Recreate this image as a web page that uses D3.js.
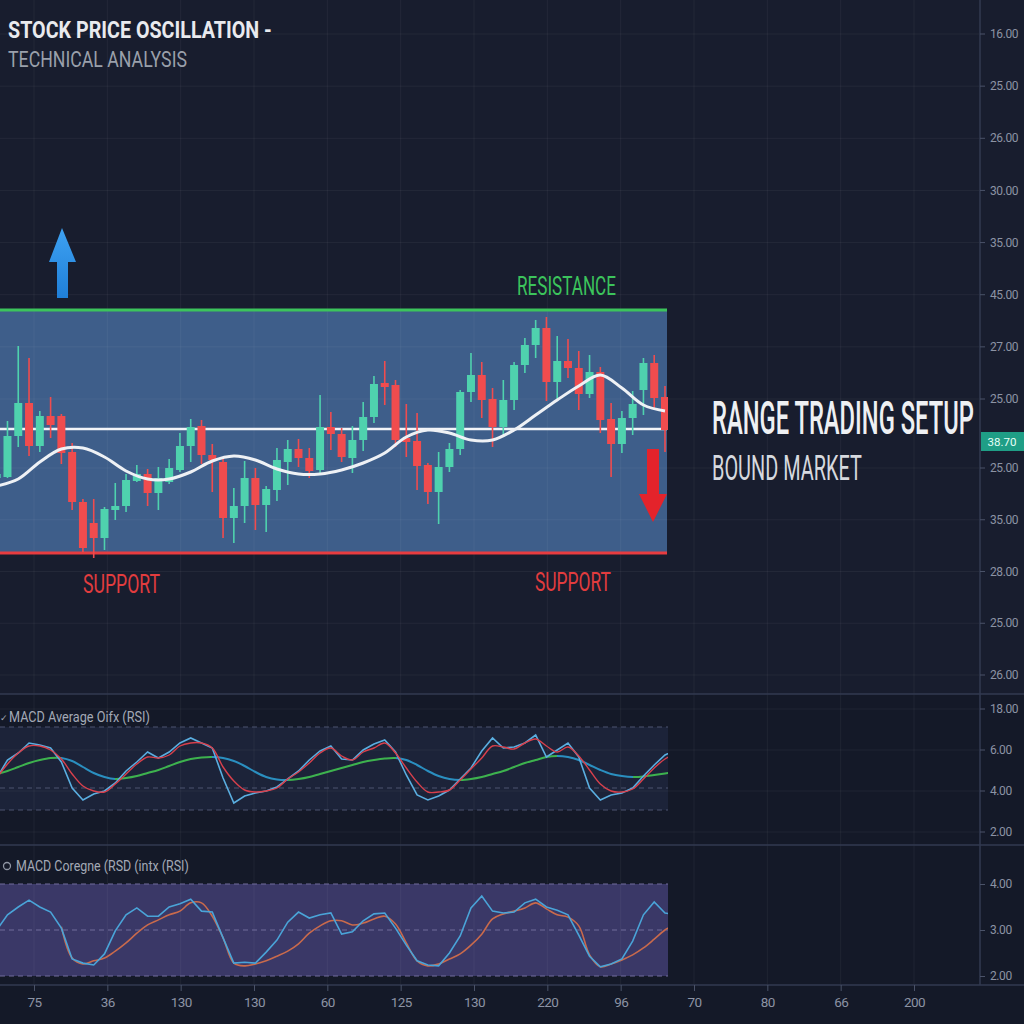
<!DOCTYPE html>
<html>
<head>
<meta charset="utf-8">
<script src="https://cdn.jsdelivr.net/npm/d3@7"></script>
<style>
html, body { margin: 0; padding: 0; background: #181d2e; }
svg { display: block; font-family: Roboto, "Noto Sans", sans-serif; }
</style>
</head>
<body>
<div id="chart"></div>
<script>
// candles, one per bar: [open, high, low, close]
const candles = [
  [27.5,28.3,27.1,27.9],[27.6,33.2,27.5,31.7],[31.7,40.7,30.6,35.0],[35.0,39.5,29.7,30.7],
  [30.7,34.2,30.1,33.7],[33.7,35.6,31.5,32.8],[33.7,33.9,28.9,30.0],[30.1,31.0,24.3,25.1],
  [25.1,25.4,20.1,20.5],[23.0,25.4,19.5,21.5],[21.5,24.6,20.3,24.4],[24.3,27.0,23.3,24.7],
  [24.7,27.9,24.1,27.3],[27.2,28.8,27.1,27.9],[27.9,28.4,24.7,26.0],[26.0,28.6,24.3,27.5],
  [27.1,29.4,26.9,28.5],[28.3,32.0,28.1,30.7],[30.7,33.4,29.1,32.6],[32.7,33.3,28.9,29.8],
  [29.8,30.9,26.1,29.3],[29.1,29.5,21.5,23.5],[23.5,26.5,21.0,24.7],[24.7,29.2,23.0,27.5],
  [27.5,28.5,22.3,24.8],[24.8,26.7,22.1,26.4],[26.3,30.5,25.2,29.3],[29.1,31.3,26.8,30.4],
  [30.4,31.4,28.6,29.5],[29.5,30.5,27.5,28.2],[28.3,35.8,27.8,32.6],[32.6,34.1,30.3,31.9],
  [31.9,32.5,29.1,29.6],[29.5,32.7,28.0,31.3],[31.3,35.1,30.2,33.6],[33.6,37.7,33.0,36.9],
  [37.0,39.2,34.8,36.6],[36.8,37.3,30.6,31.3],[31.5,34.9,29.6,31.1],[31.2,34.0,26.3,28.7],
  [28.8,29.0,24.9,26.1],[26.1,30.1,22.9,28.6],[28.6,31.0,28.1,30.4],[30.4,36.3,29.8,36.1],
  [36.1,40.0,35.1,37.8],[37.8,39.1,33.5,35.3],[35.4,36.5,30.6,32.6],[32.6,37.3,31.8,35.3],
  [35.3,39.1,34.3,38.8],[38.8,41.5,38.0,40.8],[40.8,43.3,39.5,42.5],[42.5,43.6,35.2,37.1],
  [37.1,41.7,35.4,39.2],[39.2,41.4,37.5,38.5],[38.5,40.2,34.3,35.9],[35.9,39.8,35.5,38.1],
  [38.1,38.6,32.0,33.3],[33.4,35.0,27.6,30.9],[30.9,34.2,30.0,33.5],[33.5,36.2,31.8,34.9],
  [36.3,39.5,33.8,39.0],[39.0,39.8,34.3,35.5],[35.6,36.7,30.1,32.3]
];
// moving average, read every second bar
const movingAvg = [26.7,27.4,29.1,30.4,30.5,29.6,28.2,27.4,27.4,28.1,29.2,29.7,29.3,28.4,27.9,27.9,
  28.3,29.0,30.0,31.6,32.3,32.0,31.3,31.3,32.3,33.8,35.3,36.7,37.8,36.5,34.8,34.2];
const supportLevel = 20, resistanceLevel = 44.3, midLevel = 32.4;

// MACD panel, one value per bar
const macdFast = [1.0,2.8,3.5,4.5,4.3,4.0,2.6,0.0,-1.2,-0.6,-0.3,0.5,1.7,2.6,3.6,3.0,3.6,4.5,5.0,4.5,
  4.0,1.0,-1.5,-0.8,-0.5,-0.3,0.1,0.9,1.7,2.8,3.7,4.2,2.9,2.8,3.8,4.4,4.8,3.6,1.3,-0.7,
  -1.2,-0.8,-0.2,0.9,2.0,3.7,5.0,4.0,4.1,4.5,5.3,3.1,3.8,4.5,3.1,0.0,-1.2,-0.7,-0.5,0.0,
  1.2,2.3,3.3,3.8];
const macdSlow = [1.0,2.4,3.5,4.2,4.2,3.8,2.9,1.4,0.2,-0.3,-0.4,0.4,1.4,2.4,3.1,3.0,3.3,4.2,4.5,4.5,
  4.0,2.1,0.7,-0.2,-0.4,-0.3,0.0,0.9,1.6,2.5,3.5,4.0,3.2,2.8,3.6,4.0,4.5,3.5,2.0,0.6,
  -0.4,-0.4,-0.2,0.8,1.9,3.0,4.2,4.1,3.9,4.5,4.9,4.2,3.6,4.1,3.2,1.8,0.4,-0.3,-0.4,-0.1,
  0.9,2.0,2.9,3.4];
const macdSignal = [1.4,1.7,2.1,2.5,2.8,3.0,3.0,2.7,2.1,1.5,1.1,0.9,1.0,1.2,1.5,1.8,2.2,2.6,2.9,3.05,
  3.1,3.0,2.7,2.2,1.6,1.1,0.85,0.8,0.9,1.1,1.4,1.7,2.0,2.3,2.6,2.8,2.95,3.0,2.8,2.3,
  1.7,1.2,0.9,0.8,0.9,1.1,1.4,1.7,2.1,2.5,2.8,3.1,3.2,3.1,2.8,2.3,1.8,1.4,1.2,1.1,
  1.15,1.3,1.45,1.6];
const macdLevels = [-2.2, 0, 6.1];

// RSI panel, one value per bar
const rsiFast = [3.00,3.33,3.50,3.65,3.50,3.39,3.04,2.37,2.28,2.24,2.48,2.98,3.33,3.48,3.30,3.30,3.50,3.57,3.67,3.41,
  3.39,2.83,2.28,2.30,2.28,2.52,2.78,3.17,3.39,3.26,3.33,3.37,2.91,2.96,3.20,3.35,3.37,3.04,2.67,2.33,
  2.24,2.22,2.50,2.87,3.48,3.74,3.41,3.37,3.39,3.59,3.67,3.50,3.43,3.33,2.89,2.43,2.20,2.26,2.37,2.76,
  3.33,3.61,3.37,3.33];
const rsiSlow = [null,null,null,null,null,null,3.07,2.39,2.26,2.33,2.39,2.54,2.72,2.93,3.11,3.22,3.33,3.41,3.59,3.59,
  3.30,2.83,2.28,2.22,2.26,2.33,2.43,2.54,2.70,2.93,3.09,3.20,3.20,3.11,3.15,3.24,3.30,3.13,2.72,2.33,
  2.22,2.26,2.37,2.48,2.67,2.91,3.24,3.35,3.41,3.48,3.59,3.46,3.33,3.28,3.09,2.46,2.20,2.26,2.35,2.46,
  2.61,2.80,3.00,3.13];
const rsiLevels = [2, 3, 4];

// axis labels
const priceLabelsUpper = ["16.00","25.00","26.00","30.00","35.00","45.00","27.00","25.00"];
const priceLabelsLower = ["25.00","35.00","28.00","25.00","26.00"];
const lastPrice = "38.70";
const macdLabels = ["18.00","6.00","4.00","2.00"];
const rsiTicks = [4, 3, 2];
const timeLabels = ["75","36","130","130","60","125","130","220","96","70","80","66","200"];

const W = 1024, H = 1024;
const plotRight = 668, axisX = 980;
const svg = d3.select("#chart").append("svg").attr("width", W).attr("height", H);

svg.append("rect").attr("width", W).attr("height", H).attr("fill", "#181d2e");
svg.append("rect").attr("y", 694).attr("width", W).attr("height", H - 694).attr("fill", "#141928");

const x = d3.scaleLinear().domain([0, candles.length - 1]).range([-3.3, 665]);
const y = d3.scaleLinear().domain([supportLevel, resistanceLevel]).range([553, 310]);
const yMacd = d3.scaleLinear().domain([-5.7, 9.4]).range([845, 694]);
const yRsi = d3.scaleLinear().domain([2, 4]).range([976, 884]);
const xTime = d3.scalePoint().domain(d3.range(timeLabels.length)).range([34, 914]);
const yUpper = d3.scalePoint().domain(d3.range(priceLabelsUpper.length)).range([34, 399]);
const yLower = d3.scalePoint().domain(d3.range(priceLabelsLower.length)).range([468, 675]);
const yMacdLab = d3.scalePoint().domain(d3.range(macdLabels.length)).range([709, 832]);

const defs = svg.append("defs");
defs.append("clipPath").attr("id", "plotClip")
  .append("rect").attr("x", 0).attr("y", 0).attr("width", plotRight).attr("height", H);

// price box
svg.append("rect")
  .attr("x", 0).attr("y", y(resistanceLevel))
  .attr("width", 667).attr("height", y(supportLevel) - y(resistanceLevel))
  .attr("fill", "#3e5e8a");

// panel bands
svg.append("rect")
  .attr("x", 0).attr("y", yMacd(d3.max(macdLevels)))
  .attr("width", plotRight).attr("height", yMacd(d3.min(macdLevels)) - yMacd(d3.max(macdLevels)))
  .attr("fill", "#1c2339");
svg.append("rect")
  .attr("x", 0).attr("y", yRsi(4))
  .attr("width", plotRight).attr("height", yRsi(2) - yRsi(4))
  .attr("fill", "#3a3867");

// grid
const grid = svg.append("g").attr("stroke", "#ffffff").attr("stroke-opacity", 0.05);
grid.selectAll("line.v").data(xTime.domain()).join("line")
  .attr("x1", d => xTime(d)).attr("x2", d => xTime(d)).attr("y1", 0).attr("y2", 985);
const hPos = priceLabelsUpper.map((d, i) => yUpper(i)).concat(priceLabelsLower.map((d, i) => yLower(i)));
grid.selectAll("line.h").data(hPos).join("line")
  .attr("x1", 0).attr("x2", axisX).attr("y1", d => d).attr("y2", d => d);
grid.selectAll("line.m").data(macdLabels.map((d, i) => yMacdLab(i))).join("line")
  .attr("x1", 0).attr("x2", axisX).attr("y1", d => d).attr("y2", d => d);

// separators and axis line
const sep = svg.append("g").attr("stroke", "#323a50").attr("stroke-width", 1.5);
[694, 845, 985].forEach(v => sep.append("line").attr("x1", 0).attr("x2", W).attr("y1", v).attr("y2", v));
sep.append("line").attr("x1", axisX).attr("x2", axisX).attr("y1", 0).attr("y2", 985);

// resistance / support / mid
svg.append("line").attr("x1", 0).attr("x2", 667)
  .attr("y1", y(resistanceLevel)).attr("y2", y(resistanceLevel))
  .attr("stroke", "#3cc45c").attr("stroke-width", 3);
svg.append("line").attr("x1", 0).attr("x2", 667)
  .attr("y1", y(supportLevel)).attr("y2", y(supportLevel))
  .attr("stroke", "#e83c40").attr("stroke-width", 3);

const plot = svg.append("g").attr("clip-path", "url(#plotClip)");

plot.append("line").attr("x1", 0).attr("x2", 667)
  .attr("y1", y(midLevel)).attr("y2", y(midLevel))
  .attr("stroke", "#f2f4f8").attr("stroke-width", 2.5);

// candles
const up = "#4fd2ae", down = "#f04c4e";
const bw = 8;
const c = plot.append("g").selectAll("g").data(candles).join("g")
  .attr("fill", d => d[3] >= d[0] ? up : down)
  .attr("stroke", d => d[3] >= d[0] ? up : down);
c.append("line")
  .attr("x1", (d, i) => x(i)).attr("x2", (d, i) => x(i))
  .attr("y1", d => y(d[1])).attr("y2", d => y(d[2]))
  .attr("stroke-width", 1.6);
c.append("rect")
  .attr("x", (d, i) => x(i) - bw / 2).attr("width", bw)
  .attr("y", d => y(Math.max(d[0], d[3])))
  .attr("height", d => Math.max(2, Math.abs(y(d[0]) - y(d[3]))))
  .attr("stroke", "none");

// moving average
plot.append("path")
  .datum(movingAvg)
  .attr("fill", "none").attr("stroke", "#eef1f5").attr("stroke-width", 3)
  .attr("d", d3.line().x((d, i) => x(i * 2)).y(d => y(d)).curve(d3.curveCatmullRom));

// arrows
const gUp = defs.append("linearGradient").attr("id", "gUp").attr("x1", 0).attr("x2", 0).attr("y1", 0).attr("y2", 1);
gUp.append("stop").attr("offset", 0).attr("stop-color", "#3ea2f2");
gUp.append("stop").attr("offset", 1).attr("stop-color", "#1f7fd8");
svg.append("path").attr("fill", "url(#gUp)")
  .attr("d", "M62,228 L76,262 L68,262 L68,298 L57,298 L57,262 L49,262 Z");
svg.append("path").attr("fill", "#e4232b")
  .attr("d", "M647,449 L659,449 L659,494 L667,494 L653,522 L639,494 L647,494 Z");

// MACD lines
const macdG = svg.append("g").attr("clip-path", "url(#plotClip)");
macdG.selectAll("line.lvl").data(macdLevels).join("line")
  .attr("x1", 0).attr("x2", plotRight).attr("y1", d => yMacd(d)).attr("y2", d => yMacd(d))
  .attr("stroke", "#4c5570").attr("stroke-width", 1.2).attr("stroke-dasharray", "5,4");

// signal line: green while rising, blue while falling
const sigGrad = defs.append("linearGradient").attr("id", "sigGrad")
  .attr("gradientUnits", "userSpaceOnUse").attr("x1", x(0)).attr("x2", x(macdSignal.length - 1))
  .attr("y1", 0).attr("y2", 0);
const span = x(macdSignal.length - 1) - x(0);
let prevDir = null;
for (let i = 1; i < macdSignal.length; i++) {
  const dir = macdSignal[i] >= macdSignal[i - 1] ? "#3db24e" : "#2a8fc0";
  if (dir !== prevDir) {
    const off = (x(i - 1) - x(0)) / span;
    if (prevDir) sigGrad.append("stop").attr("offset", off).attr("stop-color", prevDir);
    sigGrad.append("stop").attr("offset", off).attr("stop-color", dir);
    prevDir = dir;
  }
}
sigGrad.append("stop").attr("offset", 1).attr("stop-color", prevDir);

macdG.append("path").datum(macdSignal)
  .attr("fill", "none").attr("stroke", "url(#sigGrad)").attr("stroke-width", 2)
  .attr("d", d3.line().x((d, i) => x(i)).y(d => yMacd(d)).curve(d3.curveCatmullRom));
macdG.append("path").datum(macdFast)
  .attr("fill", "none").attr("stroke", "#5aaee0").attr("stroke-width", 1.6)
  .attr("d", d3.line().x((d, i) => x(i)).y(d => yMacd(d)));
macdG.append("path").datum(macdSlow)
  .attr("fill", "none").attr("stroke", "#d8404c").attr("stroke-width", 1.4)
  .attr("d", d3.line().x((d, i) => x(i)).y(d => yMacd(d)).curve(d3.curveCatmullRom));

// RSI lines
const rsiG = svg.append("g").attr("clip-path", "url(#plotClip)");
rsiG.selectAll("line.lvl").data(rsiLevels).join("line")
  .attr("x1", 0).attr("x2", plotRight).attr("y1", d => yRsi(d)).attr("y2", d => yRsi(d))
  .attr("stroke", "#706c9c").attr("stroke-width", 1.2).attr("stroke-dasharray", "5,4");
rsiG.append("path").datum(rsiSlow)
  .attr("fill", "none").attr("stroke", "#c96a4c").attr("stroke-width", 1.6)
  .attr("d", d3.line().defined(d => d != null).x((d, i) => x(i)).y(d => yRsi(d)).curve(d3.curveCatmullRom));
rsiG.append("path").datum(rsiFast)
  .attr("fill", "none").attr("stroke", "#4aa4d8").attr("stroke-width", 1.6)
  .attr("d", d3.line().x((d, i) => x(i)).y(d => yRsi(d)));

// right axis labels
const axisCol = "#8c93a4";
const ra = svg.append("g").attr("font-size", 12).attr("fill", axisCol);
function rightLabels(labels, scale) {
  labels.forEach((t, i) => {
    ra.append("line").attr("x1", axisX).attr("x2", axisX + 5)
      .attr("y1", scale(i)).attr("y2", scale(i)).attr("stroke", "#4a5268");
    ra.append("text").attr("x", 990).attr("y", scale(i)).attr("dy", "0.35em")
      .attr("letter-spacing", -0.4).text(t);
  });
}
rightLabels(priceLabelsUpper, yUpper);
rightLabels(priceLabelsLower, yLower);
rightLabels(macdLabels, yMacdLab);

const rsiAxis = svg.append("g").attr("transform", `translate(${axisX},0)`)
  .call(d3.axisRight(yRsi).tickValues(rsiTicks).tickFormat(d3.format(".2f")).tickSize(5).tickPadding(5));
rsiAxis.select(".domain").remove();
rsiAxis.selectAll("line").attr("stroke", "#4a5268");
rsiAxis.selectAll("text").attr("fill", axisCol).attr("font-size", 12)
  .attr("font-family", "Roboto, sans-serif").attr("letter-spacing", -0.4);

// last price badge
svg.append("rect").attr("x", 981).attr("y", 432).attr("width", 43).attr("height", 19).attr("fill", "#1f9e86");
svg.append("text").attr("x", 1002).attr("y", 445.5).attr("text-anchor", "middle")
  .attr("font-size", 11.5).attr("fill", "#e6fff7").text(lastPrice);

// time axis
const xa = svg.append("g").attr("transform", "translate(0,985)")
  .call(d3.axisBottom(xTime).tickFormat(i => timeLabels[i]).tickSize(6).tickPadding(6));
xa.select(".domain").remove();
xa.selectAll("line").attr("stroke", "#4a5268");
xa.selectAll("text").attr("fill", axisCol).attr("font-size", 13.5)
  .attr("font-family", "Roboto, sans-serif").attr("letter-spacing", -0.6);

// texts: squeezed horizontally to the width seen in the picture
function label(txt, px, py, size, weight, color, len) {
  const t = svg.append("text")
    .attr("font-size", size).attr("font-weight", weight).attr("fill", color).text(txt);
  let sx = 1;
  if (len) sx = len / t.node().getComputedTextLength();
  t.attr("transform", `translate(${px},${py}) scale(${sx},1)`);
  return t;
}
label("STOCK PRICE OSCILLATION -", 8, 37.5, 23, 700, "#e9eaee", 264);
label("TECHNICAL ANALYSIS", 8, 66.7, 22, 400, "#9aa0ab", 179);
label("RESISTANCE", 517, 295, 25, 400, "#3cc45c", 99);
label("SUPPORT", 83, 593, 25, 400, "#e23c3e", 77);
label("SUPPORT", 535, 591, 25, 400, "#e23c3e", 76);
label("RANGE TRADING SETUP", 712, 434, 47, 500, "#eef0f3", 262);
label("BOUND MARKET", 712, 480, 36, 400, "#d6d9df", 150);
label("✓", 0, 721, 9, 400, "#a3a9b6");
label("MACD Average Oifx (RSI)", 9, 722, 14, 400, "#a3a9b6", 141);
svg.append("circle").attr("cx", 7).attr("cy", 866).attr("r", 3.5)
  .attr("fill", "none").attr("stroke", "#8f95a3").attr("stroke-width", 1.3);
label("MACD Coregne (RSD (intx (RSI)", 16, 871, 14, 400, "#a3a9b6", 173);
</script>
</body>
</html>
